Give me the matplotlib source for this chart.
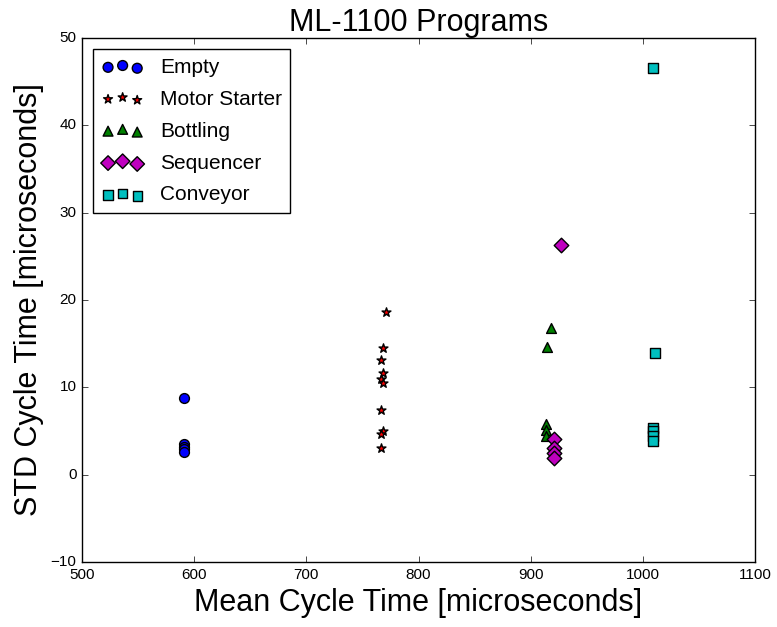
import matplotlib
matplotlib.use('Agg')
import matplotlib.pyplot as plt

plt.style.use('classic')
plt.rcParams['font.family'] = ['Liberation Sans', 'DejaVu Sans']

empty_x = [591, 591, 591, 591, 591]
empty_y = [8.8, 3.5, 3.2, 2.9, 2.6]

motor_x = [771, 768, 767, 768, 767, 768, 767, 768, 767, 767]
motor_y = [18.6, 14.5, 13.1, 11.6, 11.0, 10.5, 7.4, 5.0, 4.6, 3.1]

bottling_x = [918, 915, 914, 914, 914]
bottling_y = [16.8, 14.6, 5.8, 5.1, 4.4]

seq_x = [927, 921, 921, 921, 921]
seq_y = [26.3, 4.1, 3.1, 2.5, 1.9]

conv_x = [1009, 1011, 1009, 1009, 1009, 1009]
conv_y = [46.6, 13.9, 5.4, 5.0, 4.4, 3.8]

fig = plt.figure(figsize=(7.77, 6.27), dpi=100, facecolor='white')
ax = fig.add_axes([82/777, 1 - 562/627, (755-82)/777, (562-38)/627])

ax.scatter(empty_x, empty_y, marker='o', c='b', s=50, label='Empty')
ax.scatter(motor_x, motor_y, marker='*', c='r', s=45, label='Motor Starter')
ax.scatter(bottling_x, bottling_y, marker='^', c='g', s=50, label='Bottling')
ax.scatter(seq_x, seq_y, marker='D', c='m', s=55, label='Sequencer')
ax.scatter(conv_x, conv_y, marker='s', c='c', s=45, label='Conveyor')

ax.set_xlim(500, 1100)
ax.set_ylim(-10, 50)
ax.set_title('ML-1100 Programs', fontsize=22)
ax.set_xlabel('Mean Cycle Time [microseconds]', fontsize=22)
ax.set_ylabel('STD Cycle Time [microseconds]', fontsize=22)
ax.tick_params(labelsize=11)
ax.legend(loc='upper left', fontsize=15, labelspacing=0.62, borderaxespad=0.55)

fig.savefig('out.png', dpi=100, facecolor='white')
